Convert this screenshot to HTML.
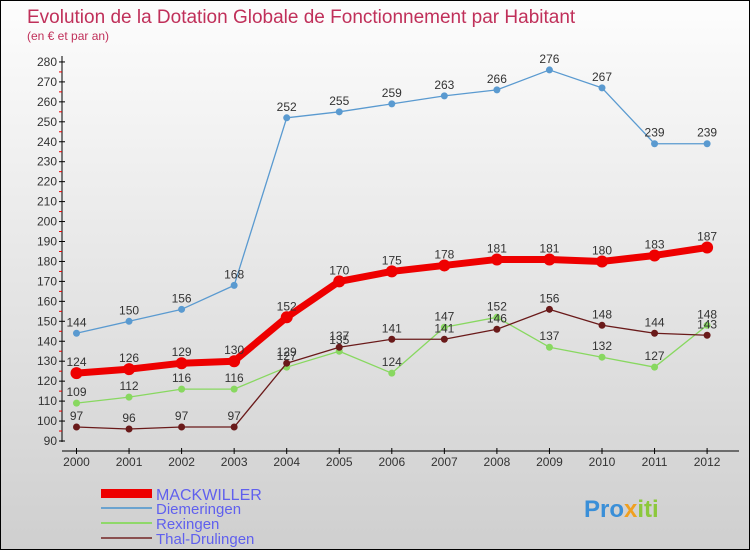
<!DOCTYPE html>
<html><head><meta charset="utf-8"><style>
body{margin:0}
#c{width:748px;height:548px;border:1px solid #000;background:linear-gradient(#fdfdfd,#cfcfcf);position:relative;font-family:"Liberation Sans",sans-serif;overflow:hidden}
</style></head><body>
<div id="c">
<svg width="748" height="548" id="s">
<text x="26" y="22" font-size="19" fill="#c0305a">Evolution de la Dotation Globale de Fonctionnement par Habitant</text>
<text x="26" y="39" font-size="12" fill="#c0305a">(en € et par an)</text>
<g id="g"></g>
<g>
<rect x="100" y="488" width="51" height="9" fill="#e00"/>
<text x="155" y="499" font-size="16" fill="#6060ee">MACKWILLER</text>
<rect x="100" y="506" width="51" height="2" fill="#6ba3cf"/>
<text x="155" y="513" font-size="15" fill="#6060ee">Diemeringen</text>
<rect x="100" y="521" width="51" height="2" fill="#8fd86a"/>
<text x="155" y="528" font-size="15" fill="#6060ee">Rexingen</text>
<rect x="100" y="536" width="51" height="2" fill="#8a5050"/>
<text x="155" y="543" font-size="15" fill="#6060ee">Thal-Drulingen</text>
</g>
<text x="583" y="516" font-size="24" font-weight="bold" fill="#3a8fd8">Pro<tspan fill="#f0a020">x</tspan><tspan fill="#8cc83c">iti</tspan></text>
</svg></div>
<script>
const years=[2000,2001,2002,2003,2004,2005,2006,2007,2008,2009,2010,2011,2012];
const yTicks=[90,100,110,120,130,140,150,160,170,180,190,200,210,220,230,240,250,260,270,280];
const mackwiller=[124,126,129,130,152,170,175,178,181,181,180,183,187];
const diemeringen=[144,150,156,168,252,255,259,263,266,276,267,239,239];
const rexingen=[109,112,116,116,127,135,124,147,152,137,132,127,148];
const thal=[97,96,97,97,129,137,141,141,146,156,148,144,143];
const NS="http://www.w3.org/2000/svg";
const g=document.getElementById('g');
const X=i=>75.5+i*52.55;
const Y=v=>440-(v-90)*1.995;
function el(t,a){const e=document.createElementNS(NS,t);for(const k in a)e.setAttribute(k,a[k]);g.appendChild(e);return e;}
let ax=el('line',{x1:61,y1:55,x2:61,y2:441,stroke:'#000'});


yTicks.forEach(v=>{
 el('line',{x1:58,x2:64,y1:Y(v),y2:Y(v),stroke:'#000'});
 if(v<280)el('line',{x1:58,x2:61,y1:Y(v+5),y2:Y(v+5),stroke:'#e00'});
 const t=el('text',{x:56,y:Y(v)+4,'font-size':12,'text-anchor':'end',fill:'#333'});t.textContent=v;
 
 
});
let xa=el('line',{x1:61,y1:450,x2:738,y2:450,stroke:'#000'});


years.forEach((y,i)=>{
 el('line',{x1:X(i),x2:X(i),y1:447,y2:453,stroke:'#000'});
 const t=el('text',{x:X(i),y:465,'font-size':12,'text-anchor':'middle',fill:'#333'});t.textContent=y;
 
 
});
function series(d,col,w,r,name){
 const p=el('polyline',{points:d.map((v,i)=>X(i)+','+Y(v)).join(' '),fill:'none',stroke:col,'stroke-width':w,'stroke-linejoin':'round'});
 
 
 d.forEach((v,i)=>{
  const c=el('circle',{cx:X(i),cy:Y(v),r:r,fill:col});
  
  
  const t=el('text',{x:X(i),y:Y(v)-7,'font-size':12,'text-anchor':'middle',fill:'#333'});t.textContent=v;
  
  
 });
}
series(diemeringen,'#5a9ad0',1.3,3.5,'diemeringen');
series(rexingen,'#88d860',1.3,3.5,'rexingen');
series(thal,'#6a1a1a',1.3,3.5,'thal-drulingen');
series(mackwiller,'#ee0000',7,6,'mackwiller');
</script>
</body></html>
